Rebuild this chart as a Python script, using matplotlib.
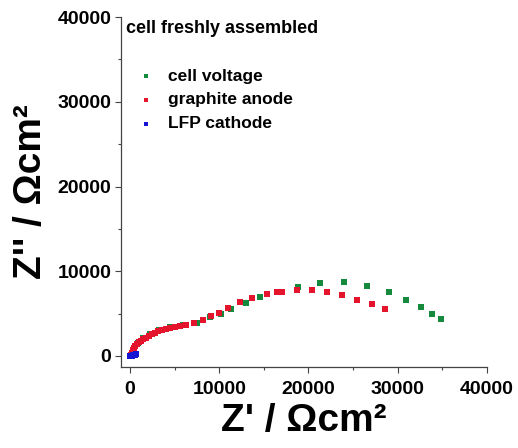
import matplotlib
matplotlib.use("Agg")
import matplotlib.pyplot as plt
from matplotlib.ticker import MultipleLocator

plt.rcParams['font.family'] = ['Liberation Sans', 'DejaVu Sans']
plt.rcParams['font.weight'] = 'bold'

# impedance data (Ohm cm^2)
cell_re = [200, 500, 900, 1500, 2300, 3300, 4500, 6000, 7500, 9000, 10150, 11280,
           12950, 14590, 16800, 18850, 21280, 24000, 26500, 28970, 30980, 32590,
           33850, 34830]
cell_im = [300, 900, 1500, 2100, 2650, 3100, 3450, 3650, 3950, 4600, 4970, 5560,
           6260, 6970, 7600, 8150, 8620, 8700, 8300, 7520, 6650, 5750, 4970, 4340]

anode_re = [100, 200, 300, 450, 600, 800, 1000, 1250, 1500, 1800, 2100, 2450,
            2800, 3200, 3600, 4050, 4500, 5000, 5600, 6270, 7170, 8140, 9040,
            10000, 11010, 12320, 13660, 15300, 16500, 16980, 18740, 20340, 22020,
            23770, 25480, 27100, 28560]
anode_im = [150, 400, 650, 900, 1150, 1400, 1600, 1800, 1950, 2150, 2350, 2550,
            2750, 2920, 3080, 3230, 3350, 3470, 3560, 3630, 3910, 4220, 4690,
            5100, 5680, 6340, 6850, 7330, 7520, 7520, 7750, 7830, 7520, 7240,
            6650, 6150, 5560]

cathode_re = [50, 100, 150, 200, 300, 400, 500, 600, 700]
cathode_im = [0, 10, 20, 40, 60, 90, 120, 150, 180]


def main():
    fig = plt.figure(figsize=(5.18, 4.48), dpi=100)
    ax = fig.add_axes([0.2336, 0.1808, 0.7066, 0.7812])

    ax.scatter(cell_re, cell_im, s=18, marker='s', color='#168a3c', lw=0,
               label='cell voltage', zorder=2)
    ax.scatter(anode_re, anode_im, s=18, marker='s', color='#e4142c', lw=0,
               label='graphite anode', zorder=3)
    ax.scatter(cathode_re, cathode_im, s=18, marker='s', color='#1414d2', lw=0,
               label='LFP cathode', zorder=4)

    ax.set_xlim(-1000, 40000)
    ax.set_ylim(-1300, 40000)
    ax.xaxis.set_major_locator(MultipleLocator(10000))
    ax.xaxis.set_minor_locator(MultipleLocator(5000))
    ax.yaxis.set_major_locator(MultipleLocator(10000))
    ax.yaxis.set_minor_locator(MultipleLocator(5000))
    for s in ['top', 'right']:
        ax.spines[s].set_visible(False)
    for s in ['left', 'bottom']:
        ax.spines[s].set_color('#444444')
        ax.spines[s].set_linewidth(0.9)
    ax.tick_params(which='major', length=4, width=0.8, color='#444444',
                   labelsize=14, pad=3)
    ax.tick_params(axis='x', which='major', pad=6)
    ax.tick_params(which='minor', length=2, width=0.8, color='#444444')

    ax.set_xlabel("Z' / \u03a9cm\u00b2", fontsize=28, fontweight='bold', labelpad=4)
    ax.set_ylabel("Z'' / \u03a9cm\u00b2", fontsize=28, fontweight='bold', labelpad=6)

    ax.text(0.015, 0.966, 'cell freshly assembled', transform=ax.transAxes,
            fontsize=13, ha='left', va='center')
    ax.legend(loc='upper left', bbox_to_anchor=(0.015, 0.878), frameon=False,
              fontsize=12.5, handletextpad=0.7, labelspacing=0.5,
              borderpad=0, markerscale=0.8, handlelength=1.2)

    fig.savefig('out.png', dpi=100)


if __name__ == "__main__":
    main()
